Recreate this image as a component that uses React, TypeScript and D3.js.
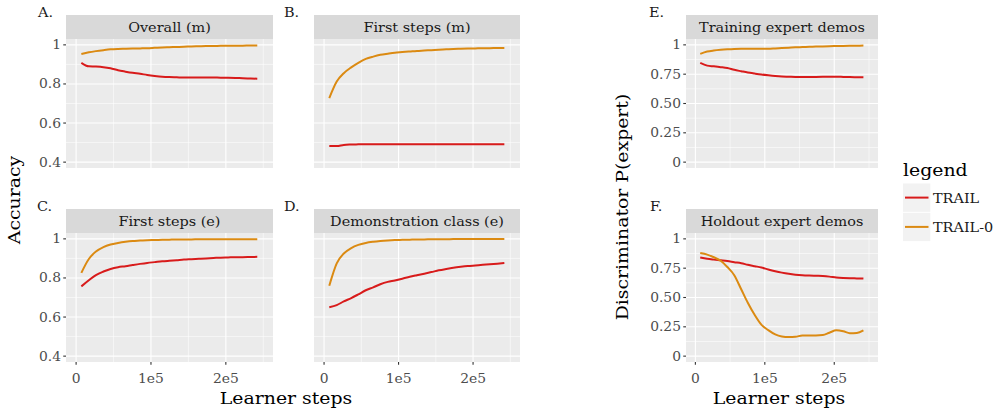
import React from "react";
import * as d3 from "d3";

const steps = [7000, 17000, 26500, 36500, 46000, 56000, 66000, 75500, 85500, 95000, 105000, 115000, 124500, 134500, 144000, 154000, 164000, 173500, 183500, 193000, 203000, 213000, 222500, 232500, 242000];

const overallTrail = [0.908, 0.89, 0.889, 0.886, 0.88, 0.87, 0.863, 0.857, 0.852, 0.846, 0.841, 0.837, 0.835, 0.834, 0.833, 0.833, 0.833, 0.833, 0.833, 0.832, 0.832, 0.831, 0.829, 0.828, 0.827];
const overallTrail0 = [0.953, 0.962, 0.968, 0.973, 0.977, 0.979, 0.98, 0.981, 0.982, 0.983, 0.985, 0.987, 0.988, 0.989, 0.99, 0.992, 0.993, 0.994, 0.994, 0.995, 0.995, 0.996, 0.996, 0.997, 0.997];

const firstMTrail = [0.483, 0.482, 0.488, 0.49, 0.491, 0.492, 0.492, 0.492, 0.492, 0.492, 0.492, 0.492, 0.492, 0.492, 0.492, 0.492, 0.492, 0.492, 0.492, 0.492, 0.492, 0.492, 0.492, 0.492, 0.492];
const firstMTrail0 = [0.727, 0.812, 0.855, 0.885, 0.908, 0.928, 0.94, 0.949, 0.955, 0.96, 0.963, 0.966, 0.969, 0.971, 0.973, 0.975, 0.977, 0.979, 0.98, 0.981, 0.982, 0.983, 0.983, 0.984, 0.984];

const firstETrail = [0.757, 0.788, 0.815, 0.833, 0.846, 0.855, 0.86, 0.866, 0.872, 0.877, 0.881, 0.885, 0.888, 0.891, 0.894, 0.896, 0.898, 0.9, 0.902, 0.904, 0.905, 0.906, 0.906, 0.907, 0.908];
const firstETrail0 = [0.826, 0.897, 0.935, 0.958, 0.971, 0.979, 0.985, 0.989, 0.991, 0.993, 0.994, 0.995, 0.996, 0.997, 0.997, 0.997, 0.998, 0.998, 0.998, 0.998, 0.998, 0.998, 0.998, 0.998, 0.998];

const demoTrail = [0.65, 0.661, 0.68, 0.697, 0.716, 0.737, 0.752, 0.768, 0.78, 0.787, 0.796, 0.806, 0.814, 0.822, 0.83, 0.839, 0.846, 0.852, 0.857, 0.861, 0.864, 0.867, 0.87, 0.873, 0.876];
const demoTrail0 = [0.76, 0.875, 0.925, 0.953, 0.969, 0.979, 0.985, 0.989, 0.992, 0.994, 0.995, 0.996, 0.997, 0.997, 0.998, 0.998, 0.998, 0.999, 0.999, 0.999, 0.999, 0.999, 0.999, 0.999, 0.999];

const trainTrail = [0.846, 0.823, 0.817, 0.81, 0.802, 0.787, 0.775, 0.764, 0.755, 0.747, 0.74, 0.734, 0.73, 0.728, 0.726, 0.726, 0.726, 0.727, 0.728, 0.729, 0.729, 0.727, 0.725, 0.724, 0.723];
const trainTrail0 = [0.923, 0.943, 0.952, 0.958, 0.962, 0.965, 0.966, 0.966, 0.966, 0.966, 0.967, 0.97, 0.973, 0.976, 0.979, 0.981, 0.983, 0.985, 0.987, 0.989, 0.99, 0.991, 0.992, 0.993, 0.994];

const holdTrail = [0.842, 0.83, 0.823, 0.817, 0.811, 0.801, 0.792, 0.779, 0.767, 0.756, 0.739, 0.724, 0.712, 0.702, 0.695, 0.69, 0.687, 0.685, 0.683, 0.678, 0.67, 0.666, 0.664, 0.663, 0.662];
const holdTrail0 = [0.88, 0.866, 0.843, 0.813, 0.76, 0.69, 0.57, 0.455, 0.35, 0.268, 0.222, 0.185, 0.168, 0.163, 0.165, 0.176, 0.177, 0.176, 0.18, 0.2, 0.22, 0.212, 0.196, 0.198, 0.22];

const accTicks = [0.4, 0.6, 0.8, 1];
const accTickLabels = ["0.4", "0.6", "0.8", "1"];
const accMinor = [0.5, 0.7, 0.9];
const discTicks = [0, 0.25, 0.5, 0.75, 1];
const discTickLabels = ["0", "0.25", "0.50", "0.75", "1"];
const discMinor = [0.125, 0.375, 0.625, 0.875];
const xTicks = [0, 100000, 200000];
const xTickLabels = ["0", "1e5", "2e5"];
const xMinor = [50000, 150000, 250000];

const seriesNames = ["TRAIL", "TRAIL-0"];
const seriesColors = ["#d81b1b", "#db8a12"];

const FONT = "'DejaVu Serif', serif";
const SX = 1.11;

type TProps = {
  x: number;
  y: number;
  size: number;
  fill: string;
  anchor?: "start" | "middle" | "end";
  rotate?: number;
  dy?: string;
  children: React.ReactNode;
};

function T({ x, y, size, fill, anchor = "start", rotate = 0, dy, children }: TProps) {
  return (
    <text
      transform={`translate(${x},${y}) rotate(${rotate}) scale(${SX},1)`}
      x={0}
      y={0}
      dy={dy}
      textAnchor={anchor}
      fontFamily={FONT}
      fontSize={size}
      fill={fill}
    >
      {children}
    </text>
  );
}

type PanelSpec = {
  tag: string;
  title: string;
  left: number;
  right: number;
  top: number;
  trail: number[];
  trail0: number[];
  kind: "acc" | "disc";
  showY: boolean;
  showX: boolean;
  tagX: number;
};

const panels: PanelSpec[] = [
  { tag: "A.", title: "Overall (m)", left: 66, right: 273, top: 15, trail: overallTrail, trail0: overallTrail0, kind: "acc", showY: true, showX: false, tagX: 38 },
  { tag: "B.", title: "First steps (m)", left: 314, right: 520, top: 15, trail: firstMTrail, trail0: firstMTrail0, kind: "acc", showY: false, showX: false, tagX: 284 },
  { tag: "C.", title: "First steps (e)", left: 66, right: 273, top: 209, trail: firstETrail, trail0: firstETrail0, kind: "acc", showY: true, showX: true, tagX: 37 },
  { tag: "D.", title: "Demonstration class (e)", left: 314, right: 520, top: 209, trail: demoTrail, trail0: demoTrail0, kind: "acc", showY: false, showX: true, tagX: 284 },
  { tag: "E.", title: "Training expert demos", left: 686, right: 878, top: 15, trail: trainTrail, trail0: trainTrail0, kind: "disc", showY: true, showX: false, tagX: 649 },
  { tag: "F.", title: "Holdout expert demos", left: 686, right: 878, top: 209, trail: holdTrail, trail0: holdTrail0, kind: "disc", showY: true, showX: true, tagX: 650 },
];

const STRIP_H = 24;
const PLOT_H = 129;

function Panel({ p }: { p: PanelSpec }) {
  const plotTop = p.top + STRIP_H;
  const plotBottom = plotTop + PLOT_H;
  const x = d3.scaleLinear().domain([-13500, 263000]).range([p.left, p.right]);
  const y = d3
    .scaleLinear()
    .domain(p.kind === "acc" ? [0.37, 1.03] : [-0.05, 1.05])
    .range([plotBottom, plotTop]);
  const yt = p.kind === "acc" ? accTicks : discTicks;
  const ytl = p.kind === "acc" ? accTickLabels : discTickLabels;
  const ym = p.kind === "acc" ? accMinor : discMinor;
  const line = d3
    .line<number>()
    .x((_, i) => x(steps[i]))
    .y((d) => y(d))
    .curve(d3.curveMonotoneX);
  return (
    <g>
      <T x={p.tagX} y={p.top + 2} size={13} fill="#1a1a1a">
        {p.tag}
      </T>
      <rect x={p.left} y={p.top} width={p.right - p.left} height={STRIP_H} fill="#d9d9d9" />
      <T x={(p.left + p.right) / 2} y={p.top + 16.5} anchor="middle" size={13} fill="#1a1a1a">
        {p.title}
      </T>
      <rect x={p.left} y={plotTop} width={p.right - p.left} height={PLOT_H} fill="#ebebeb" />
      {ym.map((v) => (
        <line key={"ym" + v} x1={p.left} x2={p.right} y1={y(v)} y2={y(v)} stroke="#fff" strokeWidth={0.55} />
      ))}
      {xMinor.map((v) => (
        <line key={"xm" + v} x1={x(v)} x2={x(v)} y1={plotTop} y2={plotBottom} stroke="#fff" strokeWidth={0.55} />
      ))}
      {yt.map((v) => (
        <line key={"yM" + v} x1={p.left} x2={p.right} y1={y(v)} y2={y(v)} stroke="#fff" strokeWidth={1.1} />
      ))}
      {xTicks.map((v) => (
        <line key={"xM" + v} x1={x(v)} x2={x(v)} y1={plotTop} y2={plotBottom} stroke="#fff" strokeWidth={1.1} />
      ))}
      <path d={line(p.trail) || ""} fill="none" stroke={seriesColors[0]} strokeWidth={2} />
      <path d={line(p.trail0) || ""} fill="none" stroke={seriesColors[1]} strokeWidth={2} />
      {p.showY &&
        yt.map((v, i) => (
          <g key={"yl" + v}>
            <line x1={p.left - 2.75} x2={p.left} y1={y(v)} y2={y(v)} stroke="#333" strokeWidth={1.1} />
            <T x={p.left - 5} y={y(v)} dy="0.36em" anchor="end" size={12.5} fill="#4d4d4d">
              {ytl[i]}
            </T>
          </g>
        ))}
      {p.showX &&
        xTicks.map((v, i) => (
          <g key={"xl" + v}>
            <line x1={x(v)} x2={x(v)} y1={plotBottom} y2={plotBottom + 2.75} stroke="#333" strokeWidth={1.1} />
            <T x={x(v)} y={plotBottom + 21} anchor="middle" size={12.5} fill="#4d4d4d">
              {xTickLabels[i]}
            </T>
          </g>
        ))}
    </g>
  );
}

export default function App() {
  return (
    <svg
      width={995}
      height={412}
      style={{ position: "absolute", left: 0, top: 0, background: "#fff" }}
    >
      <rect x={0} y={0} width={995} height={412} fill="#fff" />
      {panels.map((p) => (
        <Panel key={p.tag} p={p} />
      ))}
      <T x={20} y={200} rotate={-90} anchor="middle" size={17} fill="#000">
        Accuracy
      </T>
      <T x={628} y={207} rotate={-90} anchor="middle" size={17} fill="#000">
        Discriminator P(expert)
      </T>
      <T x={286} y={404} anchor="middle" size={17} fill="#000">
        Learner steps
      </T>
      <T x={779} y={404} anchor="middle" size={17} fill="#000">
        Learner steps
      </T>
      <T x={903} y={176} size={17} fill="#000">
        legend
      </T>
      {seriesNames.map((n, i) => (
        <g key={n}>
          <rect x={903} y={183.5 + i * 29.3} width={27.3} height={28.3} fill="#f2f2f2" />
          <line
            x1={905}
            x2={928.5}
            y1={197.6 + i * 29.3}
            y2={197.6 + i * 29.3}
            stroke={seriesColors[i]}
            strokeWidth={2}
          />
          <T x={933} y={202.5 + i * 29.3} size={13} fill="#1a1a1a">
            {n}
          </T>
        </g>
      ))}
    </svg>
  );
}
